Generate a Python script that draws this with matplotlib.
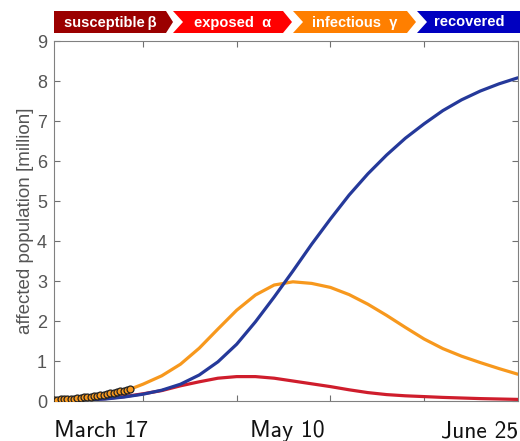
import matplotlib
matplotlib.use('Agg')
import numpy as np
import matplotlib.pyplot as plt
from matplotlib.patches import Polygon

# day index of the model run (axis runs from day 1 to day 100)
days = [1, 4, 8, 12, 16, 20, 24, 28, 32, 36, 40, 44, 48, 52, 56, 60, 64, 68, 72, 76, 80,
        84, 88, 92, 96, 100]

# affected population in million
recovered = [0.0, 0.01, 0.025, 0.05, 0.1, 0.17, 0.27, 0.42, 0.65, 0.98, 1.42, 1.98, 2.6, 3.25,
             3.92, 4.55, 5.15, 5.68, 6.15, 6.57, 6.93, 7.26, 7.53, 7.75, 7.93, 8.08]
infectious = [0.01, 0.02, 0.05, 0.11, 0.24, 0.42, 0.63, 0.92, 1.32, 1.8, 2.27, 2.65, 2.9, 2.98,
              2.94, 2.84, 2.66, 2.42, 2.14, 1.84, 1.55, 1.31, 1.12, 0.96, 0.81, 0.67]
exposed = [0.005, 0.01, 0.03, 0.06, 0.11, 0.18, 0.26, 0.38, 0.48, 0.57, 0.61, 0.61, 0.57, 0.5,
           0.43, 0.36, 0.28, 0.21, 0.16, 0.13, 0.11, 0.09, 0.075, 0.06, 0.05, 0.04]

# observed cases (circles)
obs_days = np.linspace(1, 17.3, 24)
obs_cases = [0.03, 0.035, 0.04, 0.045, 0.05, 0.055, 0.06, 0.07, 0.08, 0.09, 0.1, 0.11, 0.12,
             0.13, 0.145, 0.16, 0.175, 0.19, 0.205, 0.22, 0.24, 0.26, 0.28, 0.31]

date_labels = ['March 17', 'May 10', 'June 25']
banner_labels = ['susceptible\u2009\u03b2', 'exposed  \u03b1', 'infectious  \u03b3', 'recovered']
banner_colors = ['#9b0000', '#ff0000', '#ff7f00', '#0000c0']

fig = plt.figure(figsize=(5.2, 4.41), dpi=100)
ax = fig.add_axes([0.1038, 0.0907, 0.892, 0.8163])

line_kw = dict(lw=2.3, solid_joinstyle='round', solid_capstyle='round')
ax.plot(days, infectious, color='#f7981d', zorder=2, **line_kw)
ax.plot(days, exposed, color='#cf1d2c', zorder=3, **line_kw)
ax.plot(days, recovered, color='#25399a', zorder=4, **line_kw)
ax.plot(obs_days, obs_cases, 'o', ms=5, mfc='#f7981d', mec='#222222', mew=0.9, zorder=5)

ax.set_xlim(1, 100)
ax.set_ylim(0, 9)
ax.set_yticks(range(10))
ax.set_xticks([20, 40, 60, 80])
ax.set_xticklabels([])
ax.tick_params(direction='in', colors='#707070', labelcolor='#555555', labelsize=13,
               top=True, right=True, length=4, pad=5)
for lab in ax.get_yticklabels():
    lab.set_family('Liberation Sans')
for s in ax.spines.values():
    s.set_color('#808080')
ax.set_ylabel('affected population [million]', color='#555555', fontsize=13.5,
              family='Liberation Sans', labelpad=2)

# date labels under the axis
for lab, xf, ha in zip(date_labels, [0.0, 0.503, 1.0], ['left', 'center', 'right']):
    ax.text(xf, -0.1, lab, transform=ax.transAxes, ha=ha, va='baseline',
            fontsize=17, family='cmss10', color='#111111')

# chevron banner on top
bax = fig.add_axes([0, 0, 1, 1], zorder=10)
bax.set_xlim(0, 520)
bax.set_ylim(441, 0)
bax.axis('off')
starts = [54, 173, 293, 417]
ends = [166, 283, 407, 530]
for i in range(4):
    x0, x1 = starts[i], ends[i]
    y0, y1, ym = 11, 33, 22
    if i == 0:
        pts = [(x0, y0), (x1, y0), (x1 + 7, ym), (x1, y1), (x0, y1)]
    else:
        pts = [(x0, y0), (x1, y0), (x1 + 9, ym), (x1, y1), (x0, y1), (x0 + 10, ym)]
    bax.add_patch(Polygon(pts, closed=True, color=banner_colors[i], lw=0))
    cx = (x0 + x1) / 2 + (5 if i > 0 else 0)
    if i == 3:
        cx = 469
    bax.text(cx, ym + 0.5, banner_labels[i], color='white', fontweight='bold',
             fontsize=10.5, ha='center', va='center', family='Liberation Sans')

plt.savefig('out.png')
